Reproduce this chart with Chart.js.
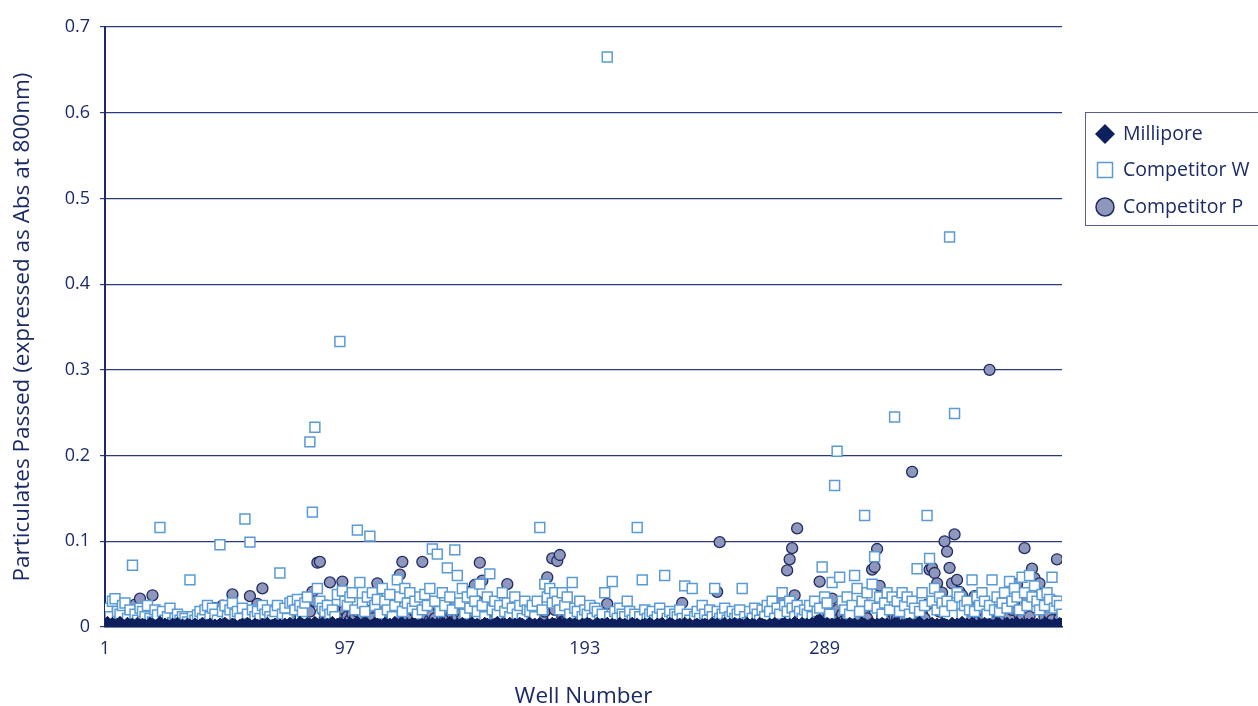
<!DOCTYPE html>
<html>
<head>
<meta charset="utf-8">
<script src="https://cdn.jsdelivr.net/npm/chart.js@4/dist/chart.umd.min.js"></script>
<style>
  html, body { margin: 0; padding: 0; background: #fff; overflow: hidden; }
  #wrap { position: relative; width: 1258px; height: 706px; }
  #leyenda {
    position: absolute; left: 1085px; top: 112px; width: 190px; height: 114px;
    border: 1.5px solid #56608a; border-right: none; box-sizing: border-box;
    font-family: "Open Sans", Lato, sans-serif; font-size: 19.5px; color: #1c2a66;
  }
  #leyenda .item { position: absolute; left: 0; height: 30px; line-height: 30px; }
  #leyenda .item span { position: absolute; left: 37px; white-space: nowrap; }
  #leyenda svg { position: absolute; left: 8px; top: 5px; }
</style>
</head>
<body>
<div id="wrap">
  <canvas id="graficoPozos"></canvas>
  <div id="leyenda">
    <div class="item" style="top:5px"><svg width="22" height="22"><polygon points="11,1 21,11 11,21 1,11" fill="#0d1f5c"/></svg><span>Millipore</span></div>
    <div class="item" style="top:41px"><svg width="22" height="22"><rect x="3.5" y="3.5" width="15" height="15" fill="#fff" stroke="#5a9ad6" stroke-width="1.5"/></svg><span>Competitor W</span></div>
    <div class="item" style="top:78px"><svg width="22" height="22"><circle cx="11" cy="11" r="9" fill="#9097bd" stroke="#1f2b63" stroke-width="1.5"/></svg><span>Competitor P</span></div>
  </div>
</div>
<script>
const xTickLabels = [1, 97, 193, 289];
const yTicks = [0, 0.1, 0.2, 0.3, 0.4, 0.5, 0.6, 0.7];
const wells = Array.from({length: 384}, (_, i) => i + 1);

const millipore = [
  0.004,0.006,0.003,0.005,0.002,0.004,0.006,0.003,0.002,0.005,0.003,0.004,0.002,0.005,0.003,0.004,
  0.003,0.002,0.005,0.004,0.002,0.003,0.006,0.002,0.004,0.003,0.001,0.004,0.003,0.005,0.002,0.003,
  0.002,0.004,0.003,0.001,0.004,0.002,0.003,0.005,0.002,0.003,0.004,0.001,0.003,0.002,0.004,0.003,
  0.005,0.003,0.002,0.004,0.003,0.001,0.003,0.004,0.002,0.005,0.003,0.002,0.004,0.003,0.002,0.004,
  0.003,0.005,0.002,0.003,0.004,0.002,0.003,0.001,0.004,0.003,0.005,0.002,0.004,0.003,0.006,0.004,
  0.003,0.005,0.004,0.002,0.006,0.004,0.003,0.005,0.002,0.004,0.003,0.006,0.002,0.004,0.005,0.003,
  0.004,0.002,0.005,0.003,0.004,0.006,0.002,0.003,0.005,0.004,0.002,0.003,0.005,0.004,0.003,0.002,
  0.005,0.003,0.004,0.002,0.006,0.003,0.004,0.005,0.002,0.004,0.003,0.005,0.004,0.002,0.003,0.004,
  0.002,0.004,0.003,0.005,0.003,0.004,0.002,0.005,0.003,0.004,0.006,0.003,0.002,0.004,0.003,0.005,
  0.003,0.002,0.004,0.005,0.003,0.004,0.002,0.003,0.005,0.004,0.002,0.003,0.004,0.006,0.003,0.004,
  0.004,0.003,0.005,0.002,0.004,0.003,0.005,0.004,0.002,0.003,0.005,0.003,0.004,0.002,0.005,0.003,
  0.002,0.004,0.003,0.005,0.004,0.002,0.006,0.003,0.004,0.002,0.005,0.003,0.004,0.003,0.002,0.004,
  0.003,0.005,0.004,0.002,0.003,0.005,0.002,0.004,0.003,0.005,0.002,0.004,0.003,0.002,0.005,0.003,
  0.004,0.002,0.003,0.005,0.003,0.004,0.002,0.003,0.004,0.002,0.005,0.003,0.002,0.004,0.003,0.005,
  0.002,0.003,0.005,0.004,0.002,0.003,0.004,0.002,0.005,0.003,0.004,0.001,0.003,0.004,0.002,0.003,
  0.004,0.003,0.002,0.005,0.003,0.004,0.002,0.003,0.005,0.002,0.004,0.003,0.005,0.002,0.004,0.003,
  0.003,0.005,0.002,0.004,0.003,0.002,0.005,0.004,0.003,0.002,0.004,0.003,0.005,0.003,0.002,0.004,
  0.005,0.003,0.004,0.002,0.006,0.004,0.003,0.005,0.002,0.004,0.003,0.005,0.004,0.008,0.009,0.004,
  0.003,0.005,0.002,0.004,0.003,0.005,0.002,0.004,0.003,0.002,0.005,0.003,0.004,0.002,0.003,0.005,
  0.004,0.002,0.003,0.005,0.003,0.004,0.002,0.005,0.003,0.004,0.002,0.003,0.005,0.004,0.002,0.003,
  0.003,0.004,0.005,0.002,0.003,0.004,0.006,0.003,0.002,0.004,0.003,0.005,0.002,0.004,0.003,0.005,
  0.004,0.003,0.002,0.005,0.003,0.004,0.002,0.006,0.003,0.004,0.002,0.005,0.003,0.002,0.004,0.003,
  0.005,0.003,0.004,0.002,0.003,0.005,0.004,0.002,0.003,0.005,0.002,0.004,0.003,0.005,0.002,0.004,
  0.003,0.004,0.002,0.005,0.003,0.004,0.002,0.003,0.005,0.004,0.003,0.002,0.004,0.003,0.005,0.004
];

const competidorW = [
  0.020,0.022,0.012,0.030,0.033,0.018,0.015,0.025,0.028,0.010,0.020,0.072,0.015,0.008,0.022,0.018,
  0.012,0.025,0.010,0.006,0.020,0.014,0.116,0.018,0.008,0.012,0.022,0.005,0.010,0.015,0.008,0.012,
  0.010,0.006,0.055,0.012,0.008,0.014,0.018,0.010,0.020,0.025,0.012,0.022,0.015,0.008,0.096,0.018,
  0.025,0.012,0.020,0.028,0.015,0.018,0.010,0.022,0.126,0.015,0.099,0.020,0.012,0.018,0.010,0.025,
  0.015,0.020,0.012,0.008,0.018,0.025,0.063,0.015,0.022,0.010,0.028,0.030,0.020,0.032,0.025,0.018,
  0.028,0.035,0.216,0.134,0.233,0.045,0.030,0.022,0.018,0.025,0.015,0.020,0.012,0.038,0.333,0.042,
  0.030,0.025,0.035,0.040,0.020,0.113,0.052,0.028,0.018,0.035,0.106,0.040,0.025,0.032,0.015,0.045,
  0.030,0.020,0.038,0.012,0.025,0.055,0.035,0.018,0.045,0.028,0.040,0.022,0.030,0.015,0.035,0.020,
  0.038,0.025,0.045,0.091,0.030,0.085,0.018,0.040,0.025,0.069,0.035,0.020,0.090,0.060,0.028,0.045,
  0.015,0.035,0.022,0.040,0.030,0.018,0.050,0.025,0.012,0.035,0.062,0.020,0.030,0.015,0.025,0.040,
  0.018,0.028,0.012,0.022,0.035,0.015,0.025,0.010,0.030,0.020,0.018,0.025,0.012,0.030,0.116,0.020,
  0.050,0.035,0.045,0.028,0.040,0.030,0.020,0.040,0.025,0.035,0.015,0.052,0.022,0.018,0.030,0.012,
  0.020,0.015,0.025,0.010,0.022,0.018,0.008,0.015,0.040,0.665,0.012,0.053,0.018,0.010,0.022,0.015,
  0.012,0.030,0.018,0.008,0.015,0.116,0.012,0.055,0.020,0.010,0.015,0.018,0.008,0.012,0.022,0.015,
  0.060,0.010,0.018,0.008,0.015,0.012,0.020,0.010,0.048,0.015,0.008,0.045,0.012,0.018,0.010,0.025,
  0.015,0.008,0.020,0.012,0.045,0.018,0.010,0.015,0.022,0.008,0.012,0.018,0.010,0.015,0.020,0.045,
  0.012,0.005,0.018,0.010,0.022,0.015,0.008,0.020,0.012,0.025,0.018,0.030,0.010,0.022,0.015,0.040,
  0.025,0.018,0.030,0.022,0.012,0.025,0.018,0.010,0.020,0.015,0.025,0.012,0.030,0.018,0.022,0.070,
  0.035,0.028,0.015,0.052,0.165,0.205,0.058,0.030,0.020,0.035,0.015,0.025,0.060,0.045,0.018,0.030,
  0.130,0.040,0.025,0.050,0.082,0.022,0.035,0.015,0.028,0.040,0.020,0.035,0.245,0.030,0.018,0.040,
  0.025,0.035,0.015,0.030,0.022,0.068,0.018,0.040,0.025,0.130,0.080,0.030,0.045,0.020,0.035,0.028,
  0.018,0.030,0.455,0.025,0.249,0.040,0.035,0.015,0.025,0.030,0.020,0.055,0.018,0.035,0.025,0.040,
  0.030,0.015,0.025,0.055,0.020,0.035,0.018,0.028,0.040,0.022,0.053,0.030,0.045,0.035,0.020,0.058,
  0.040,0.025,0.060,0.035,0.048,0.030,0.020,0.038,0.025,0.040,0.032,0.058,0.022,0.030,0.025,0.015
];

const competidorP = [
  0.005,0.008,0.004,0.010,0.006,0.003,0.008,0.012,0.005,0.007,0.004,0.010,0.026,0.008,0.033,0.006,
  0.004,0.009,0.012,0.037,0.006,0.003,0.008,0.005,0.010,0.004,0.007,0.003,0.006,0.009,0.004,0.002,
  0.005,0.008,0.003,0.006,0.004,0.010,0.005,0.003,0.007,0.004,0.012,0.006,0.022,0.008,0.005,0.025,
  0.010,0.006,0.015,0.038,0.008,0.012,0.005,0.020,0.010,0.006,0.036,0.014,0.008,0.027,0.012,0.045,
  0.010,0.006,0.014,0.008,0.020,0.012,0.007,0.015,0.010,0.018,0.012,0.022,0.028,0.030,0.020,0.032,
  0.030,0.025,0.018,0.041,0.030,0.075,0.076,0.020,0.012,0.025,0.052,0.015,0.010,0.018,0.008,0.053,
  0.020,0.012,0.008,0.015,0.010,0.018,0.006,0.012,0.020,0.008,0.015,0.010,0.025,0.051,0.012,0.018,
  0.008,0.015,0.022,0.010,0.030,0.012,0.061,0.076,0.015,0.008,0.020,0.012,0.018,0.010,0.015,0.076,
  0.012,0.020,0.008,0.015,0.010,0.025,0.018,0.012,0.008,0.020,0.010,0.015,0.025,0.012,0.018,0.010,
  0.020,0.015,0.041,0.023,0.049,0.030,0.075,0.054,0.018,0.025,0.012,0.020,0.010,0.015,0.022,0.012,
  0.018,0.050,0.015,0.010,0.020,0.008,0.015,0.012,0.006,0.018,0.010,0.015,0.008,0.012,0.005,0.010,
  0.018,0.058,0.041,0.080,0.020,0.077,0.084,0.012,0.008,0.015,0.006,0.010,0.005,0.012,0.008,0.004,
  0.010,0.006,0.015,0.023,0.008,0.012,0.005,0.010,0.006,0.027,0.008,0.004,0.010,0.006,0.003,0.008,
  0.005,0.010,0.004,0.007,0.003,0.008,0.005,0.012,0.006,0.004,0.009,0.005,0.003,0.007,0.004,0.010,
  0.006,0.003,0.008,0.005,0.012,0.006,0.010,0.028,0.008,0.004,0.010,0.006,0.012,0.005,0.008,0.004,
  0.010,0.006,0.012,0.008,0.015,0.041,0.099,0.010,0.006,0.012,0.008,0.004,0.010,0.006,0.012,0.018,
  0.008,0.012,0.006,0.010,0.015,0.008,0.020,0.012,0.006,0.015,0.010,0.008,0.018,0.012,0.020,0.030,
  0.025,0.066,0.079,0.092,0.037,0.115,0.020,0.012,0.018,0.010,0.015,0.008,0.020,0.012,0.053,0.015,
  0.010,0.018,0.008,0.033,0.012,0.020,0.010,0.015,0.008,0.012,0.006,0.010,0.015,0.008,0.012,0.020,
  0.015,0.010,0.025,0.067,0.070,0.091,0.048,0.012,0.020,0.010,0.015,0.008,0.012,0.010,0.005,0.015,
  0.010,0.025,0.015,0.181,0.012,0.020,0.008,0.015,0.010,0.026,0.067,0.069,0.063,0.051,0.018,0.040,
  0.100,0.088,0.069,0.051,0.108,0.055,0.041,0.037,0.020,0.015,0.030,0.012,0.036,0.020,0.008,0.015,
  0.010,0.025,0.300,0.012,0.020,0.008,0.015,0.023,0.010,0.018,0.012,0.020,0.030,0.050,0.015,0.010,
  0.092,0.030,0.012,0.068,0.057,0.048,0.051,0.020,0.012,0.025,0.015,0.008,0.030,0.079,0.010,0.005
];

const azul = '#1c2a66';
const fuente = '"Open Sans", Lato, sans-serif';

function puntos(valores){
    return wells.map((w, i) => ({x: w, y: valores[i]}));
}

new Chart(document.getElementById('graficoPozos'), {
    type: 'scatter',
    data: {
        datasets: [{
            label: 'Millipore',
            data: puntos(millipore),
            pointStyle: 'rectRot',
            pointRadius: 5.5,
            backgroundColor: '#0d1f5c',
            borderColor: '#0d1f5c',
            borderWidth: 1
        },
        {
            label: 'Competitor W',
            data: puntos(competidorW),
            pointStyle: 'rect',
            pointRadius: 7,
            backgroundColor: '#ffffff',
            borderColor: '#5a9ad6',
            borderWidth: 1.5
        },
        {
            label: 'Competitor P',
            data: puntos(competidorP),
            pointStyle: 'circle',
            pointRadius: 5.5,
            backgroundColor: '#9097bd',
            borderColor: '#1f2b63',
            borderWidth: 1.3
        }]
    },
    options: {
        responsive: true,
        maintainAspectRatio: false,
        animation: false,
        layout: {
            padding: {top: 27, right: 196, left: 0, bottom: 0}
        },
        plugins: {
            legend: {display: false},
            tooltip: {enabled: false}
        },
        scales: {
            x: {
                type: 'linear',
                min: 1,
                max: 384,
                afterBuildTicks: axis => { axis.ticks = xTickLabels.map(v => ({value: v})); },
                afterFit: axis => { axis.height = 79; },
                grid: {display: false, drawTicks: false},
                border: {display: true, color: azul, width: 1.5},
                ticks: {
                    color: azul,
                    padding: 11,
                    font: {family: fuente, size: 18},
                    maxRotation: 0
                },
                title: {
                    display: true,
                    text: 'Well Number',
                    color: azul,
                    font: {family: fuente, size: 22.5},
                    padding: {top: 0, bottom: -4}
                }
            },
            y: {
                min: 0,
                max: 0.7,
                afterBuildTicks: axis => { axis.ticks = yTicks.map(v => ({value: v})); },
                afterFit: axis => { axis.width = 105; },
                grid: {color: '#2b3a78', lineWidth: 1.2, tickLength: 5, drawTicks: true},
                border: {display: true, color: azul, width: 2},
                ticks: {
                    color: azul,
                    padding: 10,
                    font: {family: fuente, size: 18},
                    callback: v => String(+v.toFixed(1))
                },
                title: {
                    display: true,
                    text: 'Particulates Passed (expressed as Abs at 800nm)',
                    color: azul,
                    font: {family: fuente, size: 22.5},
                    padding: {top: 9, bottom: 0}
                }
            }
        }
    }
});
</script>
</body>
</html>
